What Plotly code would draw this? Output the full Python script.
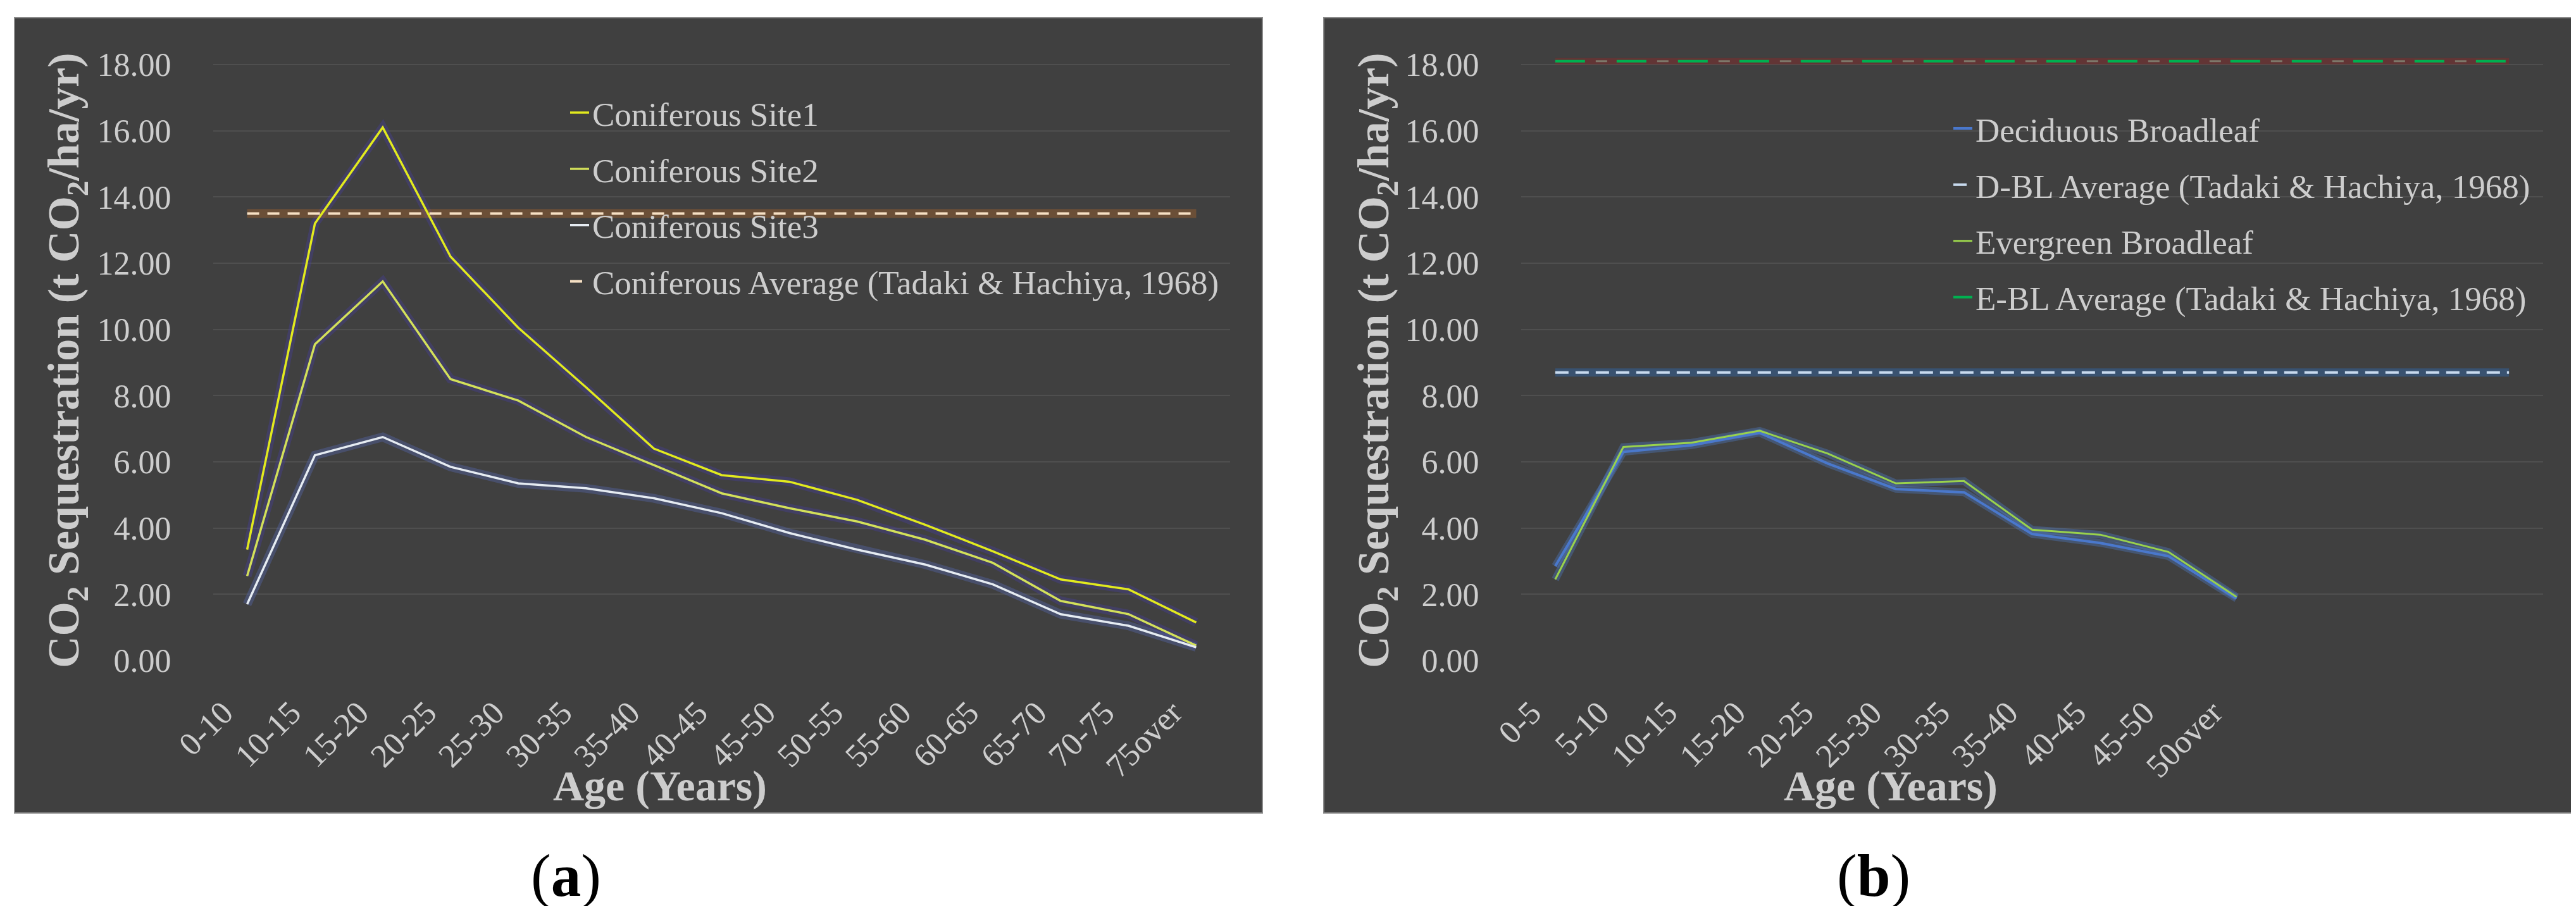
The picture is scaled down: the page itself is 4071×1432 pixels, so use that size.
import plotly.graph_objects as go

W, H = 4071, 1432

# ---------------- data ----------------
a_ages = ["0-10", "10-15", "15-20", "20-25", "25-30", "30-35", "35-40", "40-45",
          "45-50", "50-55", "55-60", "60-65", "65-70", "70-75", "75over"]
site1 = [3.35, 13.2, 16.1, 12.2, 10.05, 8.25, 6.4, 5.6, 5.4, 4.85, 4.1, 3.3, 2.45, 2.15, 1.15]
site2 = [2.55, 9.55, 11.45, 8.5, 7.85, 6.75, 5.9, 5.05, 4.6, 4.2, 3.65, 2.95, 1.8, 1.4, 0.45]
site3 = [1.7, 6.2, 6.75, 5.85, 5.35, 5.2, 4.9, 4.45, 3.85, 3.35, 2.9, 2.3, 1.4, 1.05, 0.4]
conif_avg = 13.5

b_ages = ["0-5", "5-10", "10-15", "15-20", "20-25", "25-30", "30-35", "35-40",
          "40-45", "45-50", "50over"]
b_category_slots = 15          # axis has 4 further (unlabelled) categories
deciduous = [2.85, 6.3, 6.5, 6.88, 5.95, 5.18, 5.08, 3.82, 3.55, 3.15, 1.87]
evergreen = [2.45, 6.45, 6.58, 6.94, 6.25, 5.35, 5.42, 3.95, 3.8, 3.28, 1.92]
dbl_avg = 8.7
ebl_avg = 18.1

y_ticks = [0, 2, 4, 6, 8, 10, 12, 14, 16, 18]

# ---------------- helpers ----------------
def fx(px):
    return px / W

def fy(py):
    return 1 - py / H

SERIF = "Liberation Serif"
TXT = "#cdcdcd"
BG = "#404040"
GRID = "#4f4f4f"

Y0_PX, Y18_PX = 1036, 94          # pixel rows of 0 and 18
PX_PER_UNIT = (Y0_PX - Y18_PX) / 18.0
YMAX = 18.5
Y_TOP_PX = Y0_PX - YMAX * PX_PER_UNIT
LABEL_SHIFT = 0.35                # rotated labels end at the category centre

xa = list(range(len(a_ages)))
xb = list(range(b_category_slots))

fig = go.Figure()

def glow(x, y, color, width, xaxis, yaxis):
    fig.add_trace(go.Scatter(x=x, y=y, mode="lines", hoverinfo="skip", showlegend=False,
                             line=dict(color=color, width=width),
                             xaxis=xaxis, yaxis=yaxis))

# ---- panel a ----
PURPLE_GLOW = "rgba(70,60,170,0.33)"
glow(xa, site1, PURPLE_GLOW, 14, "x", "y")
glow(xa, site2, PURPLE_GLOW, 14, "x", "y")
glow(xa, site3, "rgba(90,110,190,0.35)", 14, "x", "y")
glow(xa, [conif_avg] * len(xa), "rgba(190,110,40,0.35)", 14, "x", "y")

fig.add_trace(go.Scatter(x=xa, y=site1, mode="lines", name="Coniferous Site1",
                         line=dict(color="#e2ea1e", width=3.5), legend="legend",
                         legendgroup="a1", xaxis="x", yaxis="y"))
fig.add_trace(go.Scatter(x=xa, y=site2, mode="lines", name="Coniferous Site2",
                         line=dict(color="#d3e05a", width=3.5), legend="legend",
                         legendgroup="a2", xaxis="x", yaxis="y"))
fig.add_trace(go.Scatter(x=xa, y=site3, mode="lines", name="Coniferous Site3",
                         line=dict(color="#e6ecf2", width=3.5), legend="legend",
                         legendgroup="a3", xaxis="x", yaxis="y"))
fig.add_trace(go.Scatter(x=xa, y=[conif_avg] * len(xa), mode="lines",
                         name="Coniferous Average (Tadaki & Hachiya, 1968)",
                         line=dict(color="#f6e0c4", width=4, dash="19px,13px"), legend="legend",
                         legendgroup="a4", xaxis="x", yaxis="y"))

# ---- panel b ----
BLUE_GLOW = "rgba(80,130,210,0.35)"
glow(xb[:len(deciduous)], deciduous, BLUE_GLOW, 12, "x2", "y2")
glow(xb[:len(evergreen)], evergreen, BLUE_GLOW, 12, "x2", "y2")
glow(xb, [dbl_avg] * len(xb), "rgba(50,100,160,0.5)", 13, "x2", "y2")
glow(xb, [ebl_avg] * len(xb), "rgba(140,40,40,0.45)", 10, "x2", "y2")
fig.add_trace(go.Scatter(x=xb, y=[ebl_avg] * len(xb), mode="lines", hoverinfo="skip",
                         showlegend=False,
                         line=dict(color="rgba(150,175,150,0.55)", width=3, dash="0px,64px,18px,15px"),
                         xaxis="x2", yaxis="y2"))

fig.add_trace(go.Scatter(x=xb[:len(deciduous)], y=deciduous, mode="lines",
                         name="Deciduous Broadleaf",
                         line=dict(color="#4a78cc", width=4), legend="legend2",
                         legendgroup="b1", xaxis="x2", yaxis="y2"))
fig.add_trace(go.Scatter(x=xb, y=[dbl_avg] * len(xb), mode="lines",
                         name="D-BL Average (Tadaki & Hachiya, 1968)",
                         line=dict(color="#c8daee", width=4, dash="21px,11px"), legend="legend2",
                         legendgroup="b2", xaxis="x2", yaxis="y2"))
fig.add_trace(go.Scatter(x=xb[:len(evergreen)], y=evergreen, mode="lines",
                         name="Evergreen Broadleaf",
                         line=dict(color="#9ad24c", width=3), legend="legend2",
                         legendgroup="b3", xaxis="x2", yaxis="y2"))
fig.add_trace(go.Scatter(x=xb, y=[ebl_avg] * len(xb), mode="lines",
                         name="E-BL Average (Tadaki & Hachiya, 1968)",
                         line=dict(color="#00b050", width=4, dash="47px,50px"), legend="legend2",
                         legendgroup="b4", xaxis="x2", yaxis="y2"))

# ---------------- axes ----------------
tickfont = dict(family=SERIF, size=52, color=TXT)

def xaxis_cfg(dom, labels, anchor):
    return dict(domain=dom, range=[-0.5, 14.5], tickmode="array",
                tickvals=[i - LABEL_SHIFT for i in range(len(labels))], ticktext=labels,
                tickangle=-45, showgrid=False, zeroline=False, showline=False,
                ticks="outside", ticklen=30, tickcolor="rgba(0,0,0,0)",
                tickfont=tickfont, fixedrange=True, automargin=False,
                anchor=anchor)

def yaxis_cfg(anchor):
    return dict(domain=[fy(Y0_PX), fy(Y_TOP_PX)], range=[0, YMAX], tickmode="array",
                tickvals=y_ticks, tickformat=".2f", showgrid=True, gridcolor=GRID,
                gridwidth=2, zeroline=False, showline=False,
                ticks="outside", ticklen=55, tickcolor="rgba(0,0,0,0)",
                tickfont=tickfont, anchor=anchor, fixedrange=True, automargin=False)

legend_common = dict(bgcolor="rgba(0,0,0,0)", borderwidth=0,
                     font=dict(family=SERIF, size=53, color=TXT),
                     traceorder="grouped", tracegroupgap=17,
                     xanchor="left", yanchor="top", itemwidth=30)

fig.update_layout(
    width=W, height=H,
    autosize=False,
    margin=dict(l=0, r=0, t=0, b=0, pad=0, autoexpand=False),
    paper_bgcolor="white",
    plot_bgcolor="rgba(0,0,0,0)",
    font=dict(family=SERIF),
    xaxis=xaxis_cfg([fx(329), fx(1936)], a_ages, "y"),
    yaxis=yaxis_cfg("x"),
    xaxis2=xaxis_cfg([fx(2396), fx(4011)], b_ages, "y2"),
    yaxis2=yaxis_cfg("x2"),
    legend=dict(legend_common, x=fx(888), y=fy(129)),
    legend2=dict(legend_common, x=fx(3074), y=fy(154)),
    showlegend=True,
)

# ---------------- panel backgrounds ----------------
for x0, x1 in [(15, 1987), (2084, 4062)]:
    fig.add_shape(type="rect", xref="paper", yref="paper",
                  x0=fx(x0), x1=fx(x1), y0=fy(1277), y1=fy(20),
                  fillcolor=BG, line=dict(color="#8a8a8a", width=2), layer="below")

# ---------------- titles ----------------
ytitle = "CO<sub>2</sub> Sequestration (t CO<sub>2</sub>/ha/yr)"
for xc in [98, 2168]:
    fig.add_annotation(text="<b>" + ytitle + "</b>", xref="paper", yref="paper",
                       x=fx(xc), y=fy(562), textangle=-90, showarrow=False,
                       xanchor="center", yanchor="middle",
                       font=dict(family=SERIF, size=70, color=TXT))
for xc in [1035, 2980]:
    fig.add_annotation(text="<b>Age (Years)</b>", xref="paper", yref="paper",
                       x=fx(xc), y=fy(1234), showarrow=False,
                       xanchor="center", yanchor="middle",
                       font=dict(family=SERIF, size=68, color=TXT))
for xc, lab in [(886, "a"), (2953, "b")]:
    fig.add_annotation(text="(<b>" + lab + "</b>)", xref="paper", yref="paper",
                       x=fx(xc), y=fy(1376), showarrow=False,
                       xanchor="center", yanchor="middle",
                       font=dict(family=SERIF, size=95, color="black"))

fig.write_html("out.html")
